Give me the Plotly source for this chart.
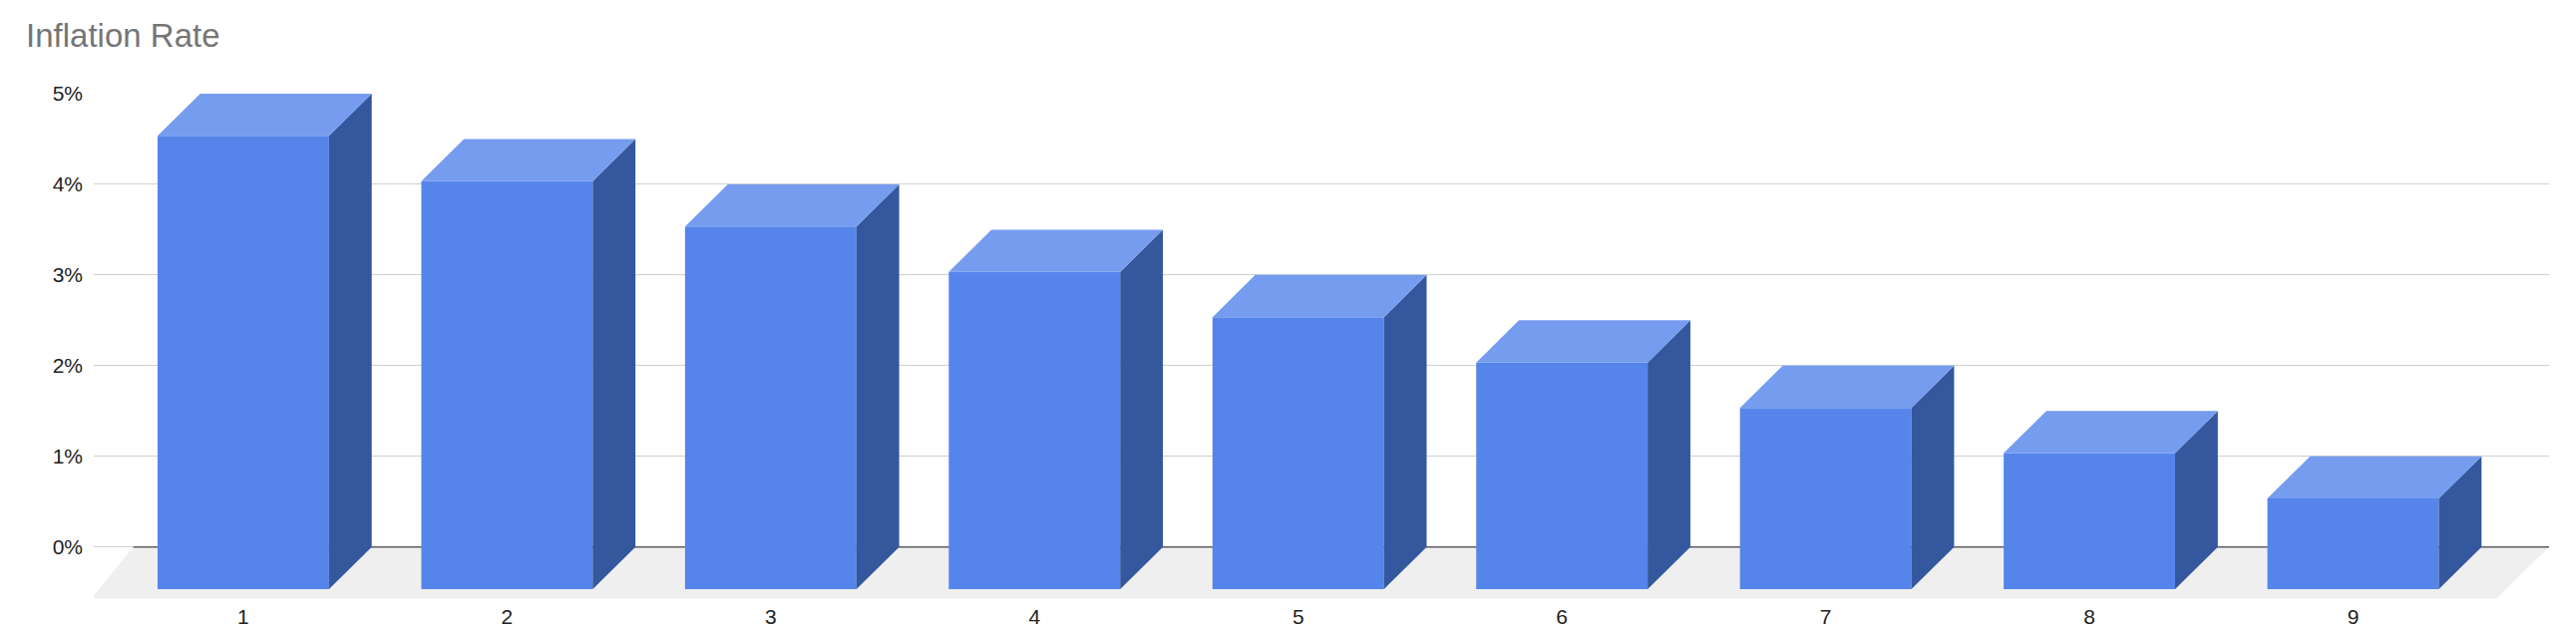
import plotly.graph_objects as go

categories = [1, 2, 3, 4, 5, 6, 7, 8, 9]
inflation = [5.0, 4.5, 4.0, 3.5, 3.0, 2.5, 2.0, 1.5, 1.0]
y_ticks = [0, 1, 2, 3, 4, 5]
y_labels = ["0%", "1%", "2%", "3%", "4%", "5%"]

# fake 3d depth, in data units
hw = 0.325
dx = 0.162
dy = 0.466

front_x, front_y, top_x, top_y, side_x, side_y = [], [], [], [], [], []
for c, v in zip(categories, inflation):
    front_x += [c - hw, c + hw, c + hw, c - hw, c - hw, None]
    front_y += [-dy, -dy, v - dy, v - dy, -dy, None]
    top_x += [c - hw, c + hw, c + hw + dx, c - hw + dx, c - hw, None]
    top_y += [v - dy, v - dy, v, v, v - dy, None]
    side_x += [c + hw, c + hw + dx, c + hw + dx, c + hw, c + hw, None]
    side_y += [-dy, 0, v, v - dy, -dy, None]

x0, x1 = 0.433, 9.743
floor_x = [x0 - 0.01, x1 - 0.2, x1, x0 + 0.15, x0 - 0.01]
floor_y = [-0.57, -0.57, 0, 0, -0.57]

fig = go.Figure()
fig.add_trace(go.Scatter(x=floor_x, y=floor_y, fill="toself", fillcolor="#efefef",
                         line=dict(width=0), mode="lines", hoverinfo="skip"))
fig.add_trace(go.Scatter(x=[x0 + 0.15, x1], y=[0, 0], mode="lines",
                         line=dict(color="#5f5f5f", width=1.5), hoverinfo="skip"))
fig.add_trace(go.Scatter(x=front_x, y=front_y, fill="toself", fillcolor="#5585ea",
                         line=dict(width=0), mode="lines", hoverinfo="skip"))
fig.add_trace(go.Scatter(x=side_x, y=side_y, fill="toself", fillcolor="#35579d",
                         line=dict(width=0), mode="lines", hoverinfo="skip"))
fig.add_trace(go.Scatter(x=top_x, y=top_y, fill="toself", fillcolor="#759cee",
                         line=dict(width=0), mode="lines", hoverinfo="skip"))

fig.update_layout(
    width=2583, height=634, showlegend=False,
    paper_bgcolor="white", plot_bgcolor="white",
    margin=dict(l=86, r=35, t=86, b=33),
    font=dict(family="Arial, Liberation Sans, sans-serif", color="#222222", size=21),
    title=dict(text="Inflation Rate", x=0.007, xanchor="left", y=0.975, yanchor="top",
               font=dict(size=33, color="#757575")),
    xaxis=dict(range=[x0, x1], tickvals=categories, ticktext=[str(c) for c in categories],
               showgrid=False, zeroline=False, showline=False, ticks=""),
    yaxis=dict(range=[-0.609, 5], tickvals=y_ticks, ticktext=y_labels,
               showgrid=True, gridcolor="#d0d0d0", zeroline=False, ticks="",
               ticklabelstandoff=10),
)
fig.write_html("out.html")
